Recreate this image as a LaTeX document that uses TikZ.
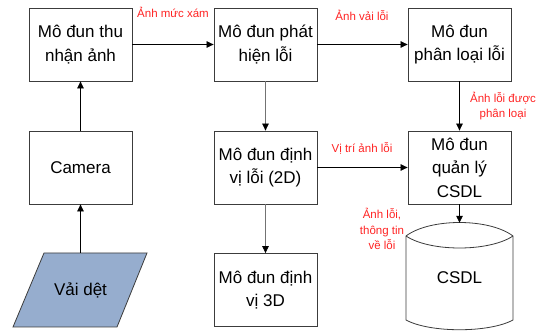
\documentclass[tikz,border=0pt]{standalone}
\usepackage{fontspec}
\setmainfont{Liberation Sans}
\usetikzlibrary{arrows.meta}
\definecolor{lblred}{RGB}{255,35,35}
\definecolor{fabric}{RGB}{150,173,206}
\definecolor{edge}{RGB}{60,60,60}
\tikzset{
  boxnode/.style={draw=edge, line width=0.8pt, minimum width=103pt, minimum height=73pt,
    inner sep=0pt, align=center, font=\fontsize{17}{23.5}\selectfont},
  lbl/.style={text=lblred, align=center, inner sep=0pt, font=\fontsize{11.5}{15.5}\selectfont},
  arr/.style={line width=0.7pt, -{Triangle[length=7pt,width=6.5pt]}},
  grayarr/.style={arr, draw=black!55, -{Triangle[length=7pt,width=6.5pt,fill=black,color=black]}}
}
\begin{document}
\begin{tikzpicture}[x=1pt,y=-1pt]
\useasboundingbox (0,0) rectangle (544,331);
% boxes
\node[boxnode] (thu) at (80.5,44.5) {Mô đun thu\\nhận ảnh};
\node[boxnode] (phat) at (265.5,44.5) {Mô đun phát\\hiện lỗi};
\node[boxnode] (phanloai) at (459.5,44.5) {Mô đun\\phân loại lỗi};
\node[boxnode] (camera) at (80.5,167.5) {Camera};
\node[boxnode] (dinhvi) at (265.5,167.5) {Mô đun định\\vị lỗi (2D)};
\node[boxnode] (quanly) at (459.5,167.5) {Mô đun\\quản lý\\CSDL};
\node[boxnode] (dinhvi3d) at (265.5,290) {Mô đun định\\vị 3D};
% fabric parallelogram
\filldraw[fill=fabric, draw=edge, line width=0.8pt] (44,253) -- (147,253) -- (117,327) -- (13,327) -- cycle;
\node[inner sep=0pt, minimum height=74pt, font=\fontsize{17}{23.5}\selectfont] (vai) at (80.5,290) {Vải dệt};
% database cylinder
\draw[draw=edge, line width=0.8pt, fill=white] (406,236) .. controls (430,218) and (489,218) .. (513,236) -- (513,320) .. controls (489,333) and (430,333) .. (406,320) -- cycle;
\draw[draw=edge, line width=0.8pt] (406,236) .. controls (430,252) and (489,252) .. (513,236);
\node[inner sep=0pt, minimum height=110pt, font=\fontsize{17}{23.5}\selectfont] (csdl) at (459.5,278) {CSDL};
% connectors
\draw[arr] (vai.north) -- (camera.south);
\draw[arr] (camera.north) -- (thu.south);
\draw[arr] (thu.east) -- (phat.west);
\draw[arr] (phat.east) -- (phanloai.west);
\draw[grayarr] (phat.south) -- (dinhvi.north);
\draw[grayarr] (dinhvi.south) -- (dinhvi3d.north);
\draw[arr] (phanloai.south) -- (quanly.north);
\draw[arr] (dinhvi.east) -- (quanly.west);
\draw[arr] (quanly.south) -- (csdl.north);
% labels
\node[lbl] (l1) at (173,12) {Ảnh mức xám};
\node[lbl] (l2) at (362,15) {Ảnh vải lỗi};
\node[lbl] (l3) at (503,106) {Ảnh lỗi được\\phân loại};
\node[lbl] (l4) at (362,148) {Vị trí ảnh lỗi};
\node[lbl] (l5) at (382,229) {Ảnh lỗi,\\thông tin\\về lỗi};
\end{tikzpicture}
\end{document}
